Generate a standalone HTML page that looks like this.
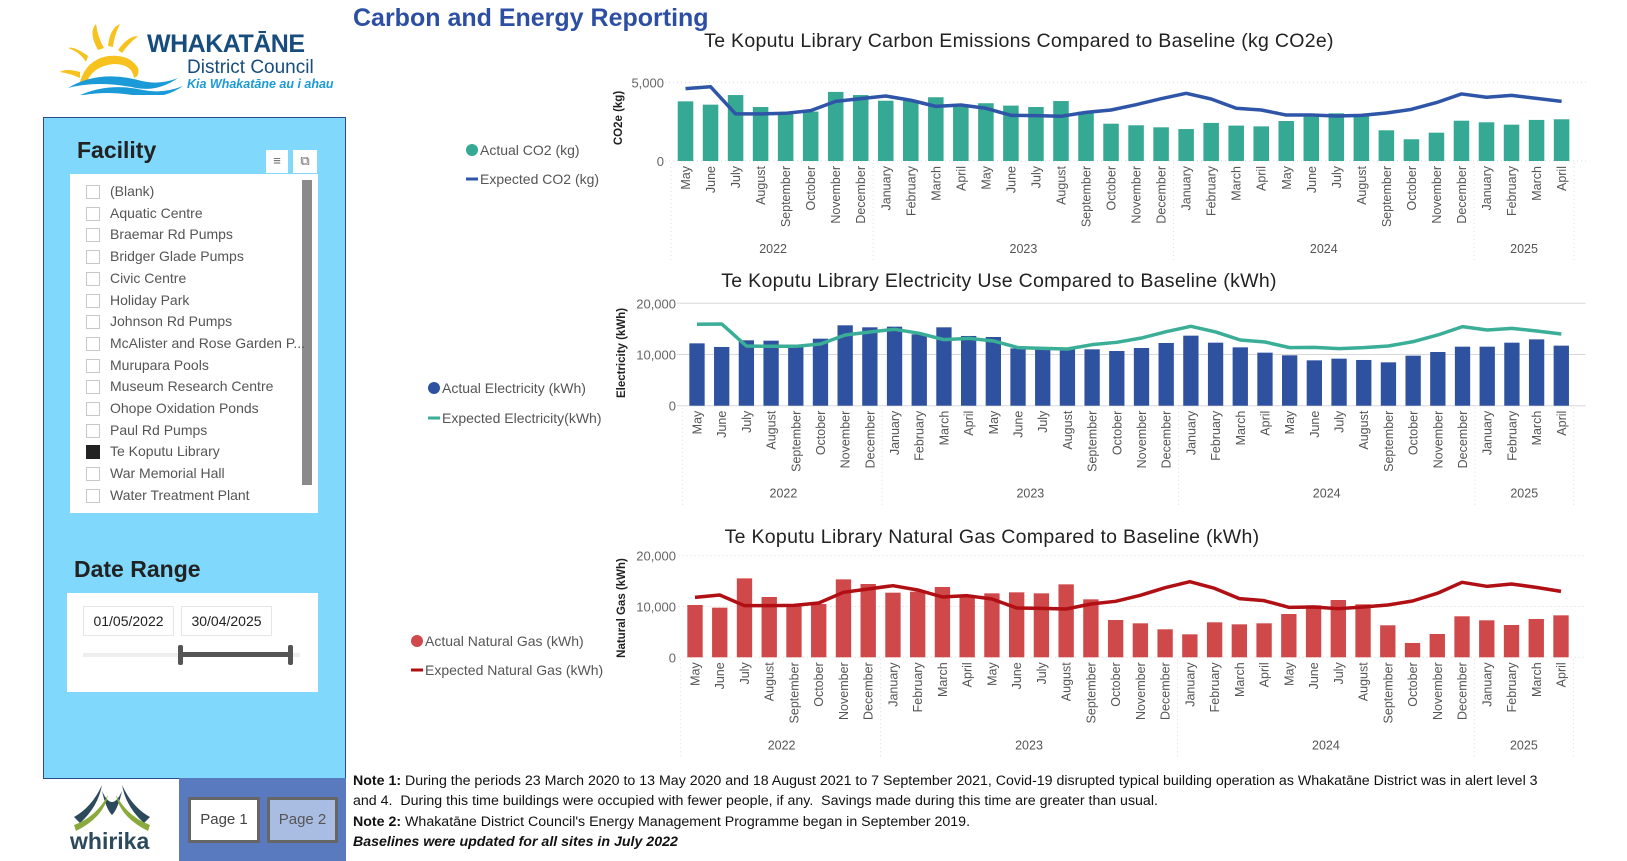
<!DOCTYPE html>
<html><head><meta charset="utf-8">
<style>
*{margin:0;padding:0;box-sizing:border-box}
body{width:1627px;height:861px;background:#fff;position:relative;overflow:hidden;font-family:"Liberation Sans",sans-serif}
.abs{position:absolute}
.item{position:absolute;left:0;font-size:14px;color:#555;white-space:nowrap}
.cb{position:absolute;left:16px;width:14px;height:14px;border:1px solid #c8c8c8;background:#fff}
.cb.on{background:#222;border-color:#222}
.notes{position:absolute;left:353px;top:771px;font-size:14.2px;color:#111;line-height:20.3px;white-space:nowrap}
</style></head><body>

<div class="abs" style="left:58px;top:20px;width:290px;height:75px">
<svg width="290" height="75" style="position:absolute;left:0;top:0">
<g fill="#f7c21d">
<path d="M40 30 Q30 12 38 4 Q40 18 46 28Z"/><path d="M50 26 Q52 8 62 4 Q56 16 55 27Z"/><path d="M60 30 Q70 16 80 16 Q70 24 64 33Z"/>
<path d="M30 36 Q16 26 10 28 Q22 32 28 42Z"/><path d="M22 52 Q8 48 2 52 Q14 54 22 58Z"/>
<path d="M22 62 Q28 40 50 36 Q72 34 80 48 Q82 56 76 58 Q74 44 56 44 Q34 46 28 64Z"/>
</g>
<path d="M10 68 Q40 50 80 60 Q100 66 120 58 Q100 72 78 68 Q40 60 10 68Z" fill="#1a9ad6"/>
<path d="M20 76 Q50 62 85 70 Q105 74 125 66 Q105 80 80 76 Q50 70 20 76Z" fill="#1a9ad6"/>
</svg>
<div class="abs" style="left:89px;top:10px;font-size:25px;font-weight:bold;color:#174d7d;letter-spacing:-0.5px">WHAKATĀNE</div>
<div class="abs" style="left:129px;top:37px;font-size:19px;color:#174d7d">District Council</div>
<div class="abs" style="left:129px;top:57px;font-size:12.5px;font-weight:bold;font-style:italic;color:#1a9ad6">Kia Whakatāne au i ahau</div>
</div>

<div class="abs" style="left:353px;top:4px;font-size:25px;font-weight:bold;color:#2d4fa3">Carbon and Energy Reporting</div>

<div class="abs" style="left:43px;top:117px;width:303px;height:662px;background:#80d8fc;border:1px solid #2e4a8e"></div>
<div class="abs" style="left:77px;top:137px;font-size:23px;font-weight:bold;color:#222">Facility</div>
<div class="abs" style="left:266px;top:150px;width:22px;height:23px;background:#fff;color:#666;font-size:13px;text-align:center;line-height:22px">≡</div>
<div class="abs" style="left:293px;top:150px;width:24px;height:23px;background:#fff;color:#666;font-size:13px;text-align:center;line-height:22px">⧉</div>
<div class="abs" style="left:70px;top:174px;width:248px;height:339px;background:#fff">
<div class="abs" style="left:232px;top:6px;width:10px;height:305px;background:#8a8a8a"></div>
</div>
<div id="fac" class="abs" style="left:70px;top:174px;width:230px;height:339px"></div>

<div class="abs" style="left:74px;top:556px;font-size:23px;font-weight:bold;color:#222">Date Range</div>
<div class="abs" style="left:67px;top:593px;width:251px;height:99px;background:#fff"></div>
<div class="abs" style="left:83px;top:606px;width:91px;height:30px;border:1px solid #e6e6e6;font-size:14px;color:#222;line-height:28px;text-align:center">01/05/2022</div>
<div class="abs" style="left:181px;top:606px;width:91px;height:30px;border:1px solid #e6e6e6;font-size:14px;color:#222;line-height:28px;text-align:center">30/04/2025</div>
<div class="abs" style="left:83px;top:653px;width:217px;height:4px;background:#eee"></div>
<div class="abs" style="left:180px;top:652px;width:110px;height:5px;background:#555"></div>
<div class="abs" style="left:178px;top:645px;width:5px;height:20px;background:#555;border-radius:2px"></div>
<div class="abs" style="left:288px;top:645px;width:5px;height:20px;background:#555;border-radius:2px"></div>

<div class="abs" style="left:72px;top:783px;width:80px;height:72px">
<svg width="80" height="50" style="position:absolute;left:0;top:0">
<path d="M2 34 Q20 24 30 2 Q26 24 8 40Z" fill="#2c4a5c"/><path d="M78 34 Q60 24 50 2 Q54 24 72 40Z" fill="#2c4a5c"/>
<path d="M30 8 Q40 30 50 8 Q46 26 40 32 Q34 26 30 8Z" fill="#2c4a5c"/>
<path d="M2 42 Q24 34 36 12 Q32 34 4 48Z" fill="#8aaa3c"/><path d="M78 42 Q56 34 44 12 Q48 34 76 48Z" fill="#8aaa3c"/>
</svg>
<div class="abs" style="left:-2px;top:45px;font-size:23px;font-weight:bold;color:#2c4a5c">whirika</div>
</div>
<div class="abs" style="left:179px;top:778px;width:167px;height:83px;background:#5a7abf"></div>
<div class="abs" style="left:188px;top:797px;width:72px;height:46px;background:#fff;border:3px solid #666;font-size:15px;color:#444;line-height:40px;text-align:center">Page 1</div>
<div class="abs" style="left:267px;top:797px;width:71px;height:46px;background:#a9bde3;border:3px solid #666;font-size:15px;color:#555;line-height:40px;text-align:center">Page 2</div>

<div class="notes">
<b>Note 1:</b> During the periods 23 March 2020 to 13 May 2020 and 18 August 2021 to 7 September 2021, Covid-19 disrupted typical building operation as Whakatāne District was in alert level 3<br>
and 4.&nbsp; During this time buildings were occupied with fewer people, if any.&nbsp; Savings made during this time are greater than usual.<br>
<b>Note 2:</b> Whakatāne District Council's Energy Management Programme began in September 2019.<br>
<b><i>Baselines were updated for all sites in July 2022</i></b>
</div>

<svg id="charts" class="abs" style="left:0;top:0" width="1627" height="861"></svg>

<script>
const months = ["May","June","July","August","September","October","November","December","January","February","March","April","May","June","July","August","September","October","November","December","January","February","March","April","May","June","July","August","September","October","November","December","January","February","March","April"];
const years = ["2022","2023","2024","2025"];
const yearCounts = [8,12,12,4];
const co2Actual = [3790,3580,4190,3430,3030,3140,4390,4190,3830,3830,4050,3450,3670,3520,3430,3810,3140,2370,2270,2140,2030,2420,2250,2200,2540,2820,3030,2880,1950,1380,1800,2560,2460,2310,2610,2650];
const co2Expected = [4600,4720,2990,2990,3030,3200,3790,3960,4130,3860,3470,3560,3350,2900,2880,2840,3090,3240,3580,3960,4300,3940,3350,3240,2920,2920,2860,2900,3050,3280,3710,4260,4050,4170,3980,3790];
const elecActual = [12180,11470,12770,12700,11530,13090,15700,15310,15440,13940,15310,13620,13420,11200,11070,11330,11010,10680,11270,12250,13680,12310,11400,10360,9840,8860,9190,8930,8470,9770,10490,11530,11530,12310,12960,11730];
const elecExpected = [15900,15960,11660,11600,11600,12050,13810,14400,14920,14140,12900,13160,12640,11340,11200,11070,11920,12380,13220,14460,15500,14400,12830,12440,11340,11400,11140,11340,11660,12510,13810,15440,14790,15110,14590,14010];
const gasActual = [10300,9770,15540,11870,10030,10490,15340,14430,12720,12920,13840,12130,12590,12790,12590,14360,11410,7340,6690,5510,4520,6890,6490,6690,8520,10230,11280,10430,6300,2820,4590,8070,7280,6360,7540,8260];
const gasExpected = [11800,12260,10160,10160,10230,10690,12790,13440,14100,13250,11870,12130,11480,9700,9640,9510,10490,11020,12200,13700,14890,13570,11540,11150,9840,9900,9570,9900,10300,11080,12590,14760,13970,14430,13770,12980];
const co2Ticks = [0,5000];
const elecTicks = [0,10000,20000];
const gasTicks = [0,10000,20000];
const facilities = ["(Blank)","Aquatic Centre","Braemar Rd Pumps","Bridger Glade Pumps","Civic Centre","Holiday Park","Johnson Rd Pumps","McAlister and Rose Garden P...","Murupara Pools","Museum Research Centre","Ohope Oxidation Ponds","Paul Rd Pumps","Te Koputu Library","War Memorial Hall","Water Treatment Plant"];

const NS="http://www.w3.org/2000/svg";
const svg=document.getElementById('charts');
function mk(tag,attrs,parent,text){const e=document.createElementNS(NS,tag);for(const k in attrs)e.setAttribute(k,attrs[k]);if(text!==undefined)e.textContent=text;(parent||svg).appendChild(e);return e;}

const fac=document.getElementById('fac');
facilities.forEach((f,i)=>{
  const d=document.createElement('div');
  d.className='item';
  
  
  d.style.top=(19+i*21.7-9)+'px';
  d.style.left='0px';
  const cb=document.createElement('div');
  cb.className='cb'+(f==="Te Koputu Library"?' on':'');
  
  
  cb.style.top='1px';
  d.appendChild(cb);
  const t=document.createElement('span');
  t.style.position='absolute';t.style.left='40px';t.style.top='-1px';
  t.textContent=f;
  d.appendChild(t);
  fac.appendChild(d);
});

function chart(c){
  const g=mk('g',{});
  
  
  const step=(c.xLast-c.x0)/(months.length-1);
  const xC=i=>c.x0+i*step;
  const yS=v=>c.y0-v*(c.y0-c.yTop)/c.max;
  const left=c.x0-step/2-12, right=c.xLast+step/2+12;
  const t=mk('text',{x:c.titleX,y:c.titleY,'font-size':19.5,fill:'#222','text-anchor':'middle','letter-spacing':'0.3'},g,c.title);
  
  
  c.ticks.forEach(v=>{
    const l=mk('line',{x1:left+4,x2:right,y1:yS(v),y2:yS(v),stroke:'#d8d8d8','stroke-width':1,'stroke-dasharray':c.dash},g);
    
    
    const tl=mk('text',{x:c.tickX,y:yS(v)+5,'font-size':13,fill:'#666','text-anchor':'end'},g,v.toLocaleString('en-US'));
    
    
  });
  const at=mk('text',{x:0,y:0,'font-size':11.5,'font-weight':'bold',fill:'#222','text-anchor':'middle',transform:`translate(${c.axX},${c.axY}) rotate(-90)`},g,c.axTitle);
  
  
  const bw=step*0.62;
  c.actual.forEach((v,i)=>{
    const r=mk('rect',{x:xC(i)-bw/2,y:yS(v),width:bw,height:c.y0-yS(v),fill:c.barColor},g);
    
    
  });
  const p=mk('polyline',{points:c.expected.map((v,i)=>xC(i)+','+yS(v)).join(' '),fill:'none',stroke:c.lineColor,'stroke-width':3.5,'stroke-linejoin':'round'},g);
  
  
  months.forEach((m,i)=>{
    const ml=mk('text',{x:0,y:0,'font-size':12.5,fill:'#555','text-anchor':'end',transform:`translate(${xC(i)+4.5},${c.y0+5}) rotate(-90)`},g,m);
    
    
  });
  let idx=0;
  const bottom=c.y0+99;
  const sep=x=>{const s=mk('line',{x1:x,x2:x,y1:c.y0+2,y2:bottom,stroke:'#ddd','stroke-dasharray':'1,3'},g);
    
    };
  sep(xC(0)-step/2-2);
  years.forEach((y,k)=>{
    const a=xC(idx)-step/2, b=xC(idx+yearCounts[k]-1)+step/2;
    const yl=mk('text',{x:(a+b)/2,y:c.y0+92,'font-size':12.5,fill:'#555','text-anchor':'middle'},g,y);
    
    
    idx+=yearCounts[k];
    sep(b);
  });
  const lg=mk('g',{},g);
  
  
  const c1=mk('circle',{cx:c.legX,cy:c.legY1,r:6,fill:c.barColor},lg);
  
  
  mk('text',{x:c.legX+8,y:c.legY1+5,'font-size':14,fill:'#555'},lg,c.legA);
  const l2=mk('line',{x1:c.legX-6,x2:c.legX+6,y1:c.legY2,y2:c.legY2,stroke:c.lineColor,'stroke-width':3},lg);
  
  
  mk('text',{x:c.legX+8,y:c.legY2+5,'font-size':14,fill:'#555'},lg,c.legE);
}

chart({name:'co2-chart',title:'Te Koputu Library Carbon Emissions Compared to Baseline (kg CO2e)',titleX:1019,titleY:47,
  x0:685.5,xLast:1561.6,y0:161,yTop:82.3,max:5000,ticks:co2Ticks,dash:'1,3',tickX:664,axX:622,axY:118,axTitle:'CO2e (kg)',
  actual:co2Actual,expected:co2Expected,barColor:'#35a993',lineColor:'#2f55a8',
  legX:472,legY1:150,legY2:179,legA:'Actual CO2 (kg)',legE:'Expected CO2 (kg)'});
chart({name:'electricity-chart',title:'Te Koputu Library Electricity Use Compared to Baseline (kWh)',titleX:999,titleY:287,
  x0:697,xLast:1561.3,y0:405.7,yTop:303.3,max:20000,ticks:elecTicks,dash:'none',tickX:676,axX:625,axY:353,axTitle:'Electricity (kWh)',
  actual:elecActual,expected:elecExpected,barColor:'#2f52a0',lineColor:'#3aae96',
  legX:434,legY1:388,legY2:418,legA:'Actual Electricity (kWh)',legE:'Expected Electricity(kWh)'});
chart({name:'gas-chart',title:'Te Koputu Library Natural Gas Compared to Baseline (kWh)',titleX:992,titleY:543,
  x0:695,xLast:1561,y0:657.3,yTop:555.7,max:20000,ticks:gasTicks,dash:'1,3',tickX:676,axX:625,axY:608,axTitle:'Natural Gas (kWh)',
  actual:gasActual,expected:gasExpected,barColor:'#d0494a',lineColor:'#b00f14',
  legX:417,legY1:641,legY2:670,legA:'Actual Natural Gas (kWh)',legE:'Expected Natural Gas (kWh)'});
</script>
</body></html>
